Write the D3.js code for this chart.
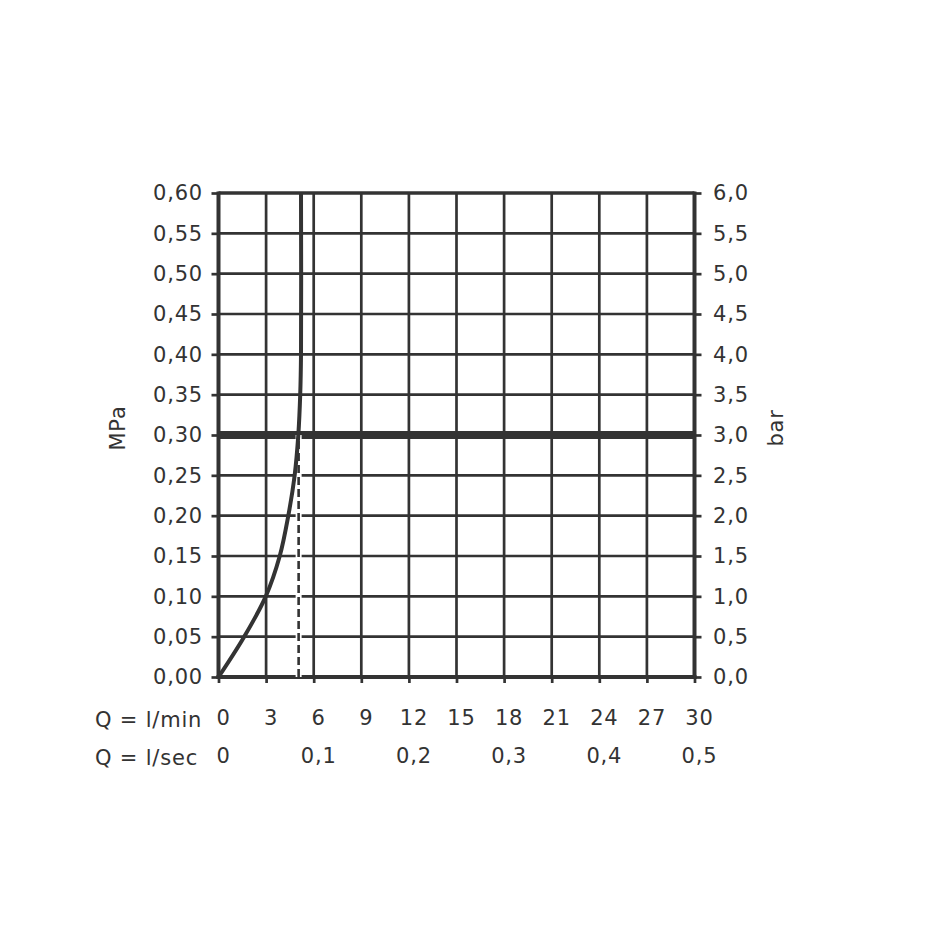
<!DOCTYPE html>
<html>
<head>
<meta charset="utf-8">
<script src="https://cdn.jsdelivr.net/npm/d3@7"></script>
<style>
  body { margin: 0; background: #fff; }
  text { font-family: "DejaVu Sans", sans-serif; fill: #333; letter-spacing: 0.8px; }
</style>
</head>
<body>
<div id="chart"></div>
<script>
// donnees
const debitLpm = [0, 1.62, 2.98, 3.86, 4.4, 4.8, 5.03, 5.15, 5.2, 5.2];
const pressionMPa = [0, 0.05, 0.10, 0.15, 0.20, 0.25, 0.30, 0.35, 0.40, 0.60];
const pressionRef = 0.30;      // ligne epaisse
const debitRef = 5.05;         // ligne pointillee
const ticksMPa = [0, 0.05, 0.10, 0.15, 0.20, 0.25, 0.30, 0.35, 0.40, 0.45, 0.50, 0.55, 0.60];
const ticksLpm = [0, 3, 6, 9, 12, 15, 18, 21, 24, 27, 30];
const ticksLsec = [0, 6, 12, 18, 24, 30];
const labelsLsec = ["0", "0,1", "0,2", "0,3", "0,4", "0,5"];

const width = 928, height = 928;
const ink = "#333";

const x = d3.scaleLinear().domain([0, 30]).range([218.5, 694.5]);
const y = d3.scaleLinear().domain([0, 0.6]).range([677, 193]);
const virgule = (v, n) => v.toFixed(n).replace(".", ",");

const svg = d3.select("#chart").append("svg")
    .attr("width", width).attr("height", height);

// grille
svg.append("g").selectAll("line")
    .data(ticksLpm.slice(1, -1)).enter().append("line")
    .attr("x1", d => x(d)).attr("x2", d => x(d))
    .attr("y1", y(0)).attr("y2", y(0.6))
    .attr("stroke", ink).attr("stroke-width", 2.7);
svg.append("g").selectAll("line")
    .data(ticksMPa.slice(1, -1)).enter().append("line")
    .attr("x1", x(0)).attr("x2", x(30))
    .attr("y1", d => y(d)).attr("y2", d => y(d))
    .attr("stroke", ink).attr("stroke-width", 2.7);

// axes gauche / droite / bas
const axeG = svg.append("g").attr("transform", `translate(${x(0)},0)`)
    .call(d3.axisLeft(y).tickValues(ticksMPa).tickSize(7).tickPadding(8.5)
        .tickFormat(d => virgule(d, 2)));
const axeD = svg.append("g").attr("transform", `translate(${x(30)},0)`)
    .call(d3.axisRight(y).tickValues(ticksMPa).tickSize(7).tickPadding(11.5)
        .tickFormat(d => virgule(d * 10, 1)));
const axeB = svg.append("g").attr("transform", `translate(0,${y(0)})`)
    .call(d3.axisBottom(x).tickValues(ticksLpm).tickSize(6).tickPadding(27));
const axeB2 = svg.append("g").attr("transform", `translate(0,${y(0)})`)
    .call(d3.axisBottom(x).tickValues(ticksLsec).tickSize(0).tickPadding(71)
        .tickFormat((d, i) => labelsLsec[i]));
axeB2.selectAll("line").remove();

[axeG, axeD, axeB, axeB2].forEach(a => {
    a.select(".domain").remove();
    a.selectAll("line").attr("stroke", ink).attr("stroke-width", 2.7);
    a.selectAll("text").style("font-size", "21px").style("fill", ink)
        .attr("font-family", null);
});
axeB.selectAll("text").attr("dx", 4.5);
axeB2.selectAll("text").attr("dx", 4.5);

// cadre
svg.append("line").attr("x1", x(0)).attr("x2", x(30)).attr("y1", y(0.6)).attr("y2", y(0.6))
    .attr("stroke", ink).attr("stroke-width", 3.3);
svg.append("line").attr("x1", x(0) - 2).attr("x2", x(30) + 2).attr("y1", y(0)).attr("y2", y(0))
    .attr("stroke", ink).attr("stroke-width", 4);
[0, 30].forEach(v => {
    svg.append("line").attr("x1", x(v)).attr("x2", x(v)).attr("y1", y(0) + 2).attr("y2", y(0.6) - 1.5)
        .attr("stroke", ink).attr("stroke-width", 4);
});

// ligne epaisse 3 bar
svg.append("line").attr("x1", x(0)).attr("x2", x(30))
    .attr("y1", y(pressionRef)).attr("y2", y(pressionRef))
    .attr("stroke", ink).attr("stroke-width", 8);

// pointilles
svg.append("line").attr("x1", x(debitRef)).attr("x2", x(debitRef))
    .attr("y1", y(0)).attr("y2", y(pressionRef))
    .attr("stroke", "#fff").attr("stroke-width", 6);
svg.append("line").attr("x1", x(debitRef)).attr("x2", x(debitRef))
    .attr("y1", y(0)).attr("y2", y(pressionRef))
    .attr("stroke", ink).attr("stroke-width", 2.6)
    .attr("stroke-dasharray", "8,4");

// courbe
const points = debitLpm.map((d, i) => [d, pressionMPa[i]]);
const ligne = d3.line().x(d => x(d[0])).y(d => y(d[1])).curve(d3.curveCatmullRom.alpha(0.5));
svg.append("path").datum(points).attr("d", ligne)
    .attr("fill", "none").attr("stroke", ink).attr("stroke-width", 4);

// titres
svg.append("text").attr("transform", "translate(125,428) rotate(-90)")
    .attr("text-anchor", "middle").style("font-size", "21px").text("MPa");
svg.append("text").attr("transform", "translate(783,428) rotate(-90)")
    .attr("text-anchor", "middle").style("font-size", "21px").text("bar");
svg.append("text").attr("x", 95).attr("y", 727).style("font-size", "21px").text("Q = l/min");
svg.append("text").attr("x", 95).attr("y", 765).style("font-size", "21px").text("Q = l/sec");
</script>
</body>
</html>
